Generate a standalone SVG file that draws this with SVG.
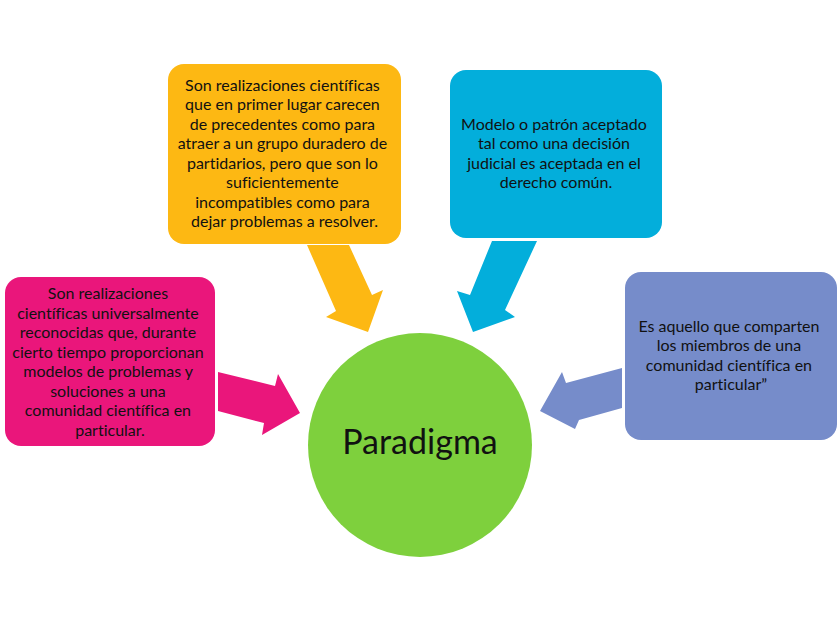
<svg xmlns="http://www.w3.org/2000/svg" width="840" height="621" viewBox="0 0 840 621">
<style>
.t{font-family:Lato,"Open Sans","Liberation Sans",sans-serif;font-size:16px;fill:#111;text-anchor:middle;font-variant-ligatures:none}
.big{font-family:Lato,"Open Sans","Liberation Sans",sans-serif;font-size:34px;fill:#111;text-anchor:middle;font-variant-ligatures:none}
</style>
<rect width="840" height="621" fill="#fff"/>
<g id="connectors">
<polygon fill="#FDB813" points="307,245 349,245 372,295 383,290 368,332 326,317 336,311"/>
<polygon fill="#03AEDB" points="492,241 537,241 505,310 515,317 473,332 457,291 470,295"/>
<polygon fill="#EA167B" points="218,372 275,386 278,374 300,413 262,435 264,423 218,411"/>
<polygon fill="#768CCA" points="622,368 566,383 562,372 540,411 575,429 579,420 622,408"/>
</g>
<g id="paradigma">
<circle cx="420" cy="445" r="112" fill="#7ED03D"/>
<text class="big" x="420" y="454">Paradigma</text>
</g>
<g id="orange">
<rect x="168" y="64" width="233" height="180" rx="16" fill="#FDB813"/>
<text class="t">
<tspan x="284.5" y="91">Son realizaciones científicas</tspan>
<tspan x="284.5" y="110.4">que en primer lugar carecen</tspan>
<tspan x="284.5" y="129.9">de precedentes como para</tspan>
<tspan x="284.5" y="149.3">atraer a un grupo duradero de</tspan>
<tspan x="284.5" y="168.7">partidarios, pero que son lo</tspan>
<tspan x="284.5" y="188.1">suficientemente</tspan>
<tspan x="284.5" y="207.6">incompatibles como para</tspan>
<tspan x="284.5" y="227">dejar problemas a resolver.</tspan>
</text>
</g>
<g id="blue">
<rect x="450" y="70" width="212" height="168" rx="16" fill="#03AEDB"/>
<text class="t">
<tspan x="556" y="130">Modelo o patrón aceptado</tspan>
<tspan x="556" y="149.3">tal como una decisión</tspan>
<tspan x="556" y="168.6">judicial es aceptada en el</tspan>
<tspan x="556" y="187.9">derecho común.</tspan>
</text>
</g>
<g id="pink">
<rect x="5" y="277" width="210" height="169" rx="16" fill="#EA167B"/>
<text class="t">
<tspan x="110" y="299.3">Son realizaciones</tspan>
<tspan x="110" y="318.8">científicas universalmente</tspan>
<tspan x="110" y="338.3">reconocidas que, durante</tspan>
<tspan x="110" y="357.8">cierto tiempo proporcionan</tspan>
<tspan x="110" y="377.2">modelos de problemas y</tspan>
<tspan x="110" y="396.7">soluciones a una</tspan>
<tspan x="110" y="416.2">comunidad científica en</tspan>
<tspan x="110" y="435.7">particular.</tspan>
</text>
</g>
<g id="purple">
<rect x="625" y="272" width="212" height="168" rx="16" fill="#768CCA"/>
<text class="t">
<tspan x="731" y="332">Es aquello que comparten</tspan>
<tspan x="731" y="351.4">los miembros de una</tspan>
<tspan x="731" y="370.8">comunidad científica en</tspan>
<tspan x="731" y="390.2">particular”</tspan>
</text>
</g>
</svg>
